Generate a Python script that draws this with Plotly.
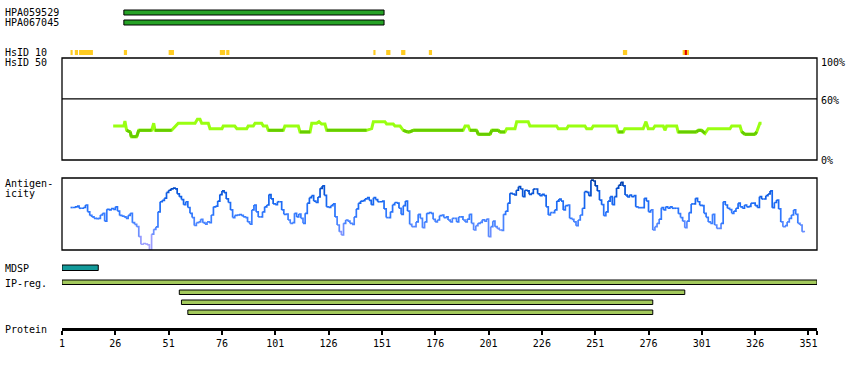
import plotly.graph_objects as go

# ---------------- data ----------------
protein_length = 355
tick_values = list(range(1, 352, 25))

antibody_names = ["HPA059529", "HPA067045"]
antibody_start = [30, 30]
antibody_end = [152, 152]

hsid10_start = [5, 7, 9, 30, 51, 75, 78, 147, 153, 160, 173, 264, 292]
hsid10_end = [6, 8.5, 15.5, 31.5, 53.5, 77.5, 79.5, 148, 155, 162, 174.5, 266, 295]
hsid_high_start = [293]
hsid_high_end = [294]

# similarity (%) breakpoints: residue, value
sim_residue = [25, 30, 30.5, 31.3, 33, 33.5, 36, 37, 43, 44, 44.6, 52.4, 55.5, 63.4, 64.5, 65.7,
               66.5, 69.6, 70.4, 76, 76.6, 82, 83, 87.6, 88.3, 90.7, 91.5, 94.6, 95.4, 97, 97.7,
               104.8, 105.5, 111.8, 112.6, 117.3, 118.1, 120.4, 121.5, 122.7, 124.3, 125.1, 143.8,
               146.2, 147, 152.4, 153.2, 156.3, 157.1, 159.5, 161, 163, 164, 165.7, 189.1, 190,
               191.5, 192.3, 195.4, 196.2, 201.7, 202.5, 205.6, 206.3, 208.7, 209.5, 213.4, 214.2,
               219.6, 220.4, 232.9, 233.7, 237.6, 238.4, 246.2, 247, 249.3, 250.1, 261, 261.8,
               264.2, 264.9, 273.5, 274.8, 275.9, 278.2, 279, 282.9, 283.7, 284.5, 289.2, 289.9,
               298.5, 299.3, 300.9, 302.5, 304, 314.2, 315, 318.9, 319.7, 321.2, 325.9, 326.7,
               328.2, 329]
sim_value = [33.3, 33.3, 38.2, 29.1, 27.5, 22.9, 22.9, 29.1, 29.1, 36, 29.1, 29.1, 36, 36, 39.9, 39.9,
             36, 36, 30.7, 30.7, 33.3, 33.3, 30.7, 30.7, 33.3, 33.3, 36, 36, 33.3, 33.3, 29.1,
             29.1, 33.3, 33.3, 27.5, 27.5, 36, 36, 37.6, 35.3, 35.3, 29.1, 29.1,
             30.7, 37.6, 37.6, 35.3, 35.3, 33.3, 33.3, 29.1, 27.5, 27.5, 29.1, 29.1, 33.3,
             33.3, 29.1, 29.1, 25.2, 25.2, 29.1, 29.1, 27.5, 27.5, 30.7, 30.7, 37.6,
             37.6, 33.3, 33.3, 30.7, 30.7, 33.3, 33.3, 30.7, 30.7, 33.3, 33.3, 27.5,
             27.5, 30.7, 30.7, 37.6, 30.7, 30.7, 33.3, 33.3, 29.1, 33.3, 33.3, 27.5,
             27.5, 29.1, 29.1, 26.1, 30.7, 30.7, 33.3, 33.3, 27.8, 25.2, 25.2, 27.5,
             36, 36]
sim_threshold = 30

# antigenicity, one value per residue starting at residue 5
antigen_first_residue = 5
antigen_values = [
    59, 59, 60, 61, 58, 58, 59, 62.5, 53, 48, 46, 44, 43.5, 44, 48.6, 51,
    40, 56.5, 55.6, 57.4, 56.5, 60, 54, 48, 47, 46, 44, 48, 51, 38, 35.6, 32.4, 18.5, 8, 9, 8.3,
    7, 0, 22, 28.7, 32, 53, 67, 69, 72, 80, 83, 85, 86, 85, 78, 74, 70, 63, 67, 59,
    51, 45, 34, 38, 39, 42.6, 38, 36, 39, 38, 48.6, 60, 61, 68, 77, 82, 79.6, 71, 66, 55.6,
    45, 48, 48.6, 49, 48, 46, 45, 39, 36,
    55.6, 62.5, 53, 46, 46, 53, 60, 62.5, 77, 71, 64,
    63, 67, 67, 55.6, 49.5, 50, 41.7, 37, 38, 51, 46, 50, 44, 37, 51, 65, 72.7, 75.5, 68, 66,
    73.6, 85.6, 89, 76, 60, 59, 61.6, 64, 46, 34.7, 25.5, 20.8, 37, 41.7, 40, 37, 35.6, 46, 57, 65,
    68, 68.5, 71, 72.7, 69, 63, 72.7, 70, 67, 67, 68, 57, 45, 45, 53, 63, 66, 65, 58, 49.5,
    61.6, 68, 54, 35.6, 32.4, 32.4, 39, 49.5, 44, 31, 39, 51, 52, 51,
    42.6, 39, 41.7, 47.7, 48.6, 45, 46, 41.7, 39, 44, 44, 39, 46, 46, 41.7, 39, 43, 49.5, 37, 27.8,
    33.8, 37, 38.4, 42, 40, 43,
    18.5, 32.4, 40, 32.4, 30, 27.8, 27.3, 49.5, 54, 65, 78.7, 77.8, 76.4, 83, 88, 84.7, 74, 83, 82, 77.3,
    78.7, 84.7, 84.7, 78, 75.5, 77.3, 75.5, 60, 48.6, 52, 52, 55.6, 68, 70.8, 68, 55.6, 61.6, 62.5, 44, 42.6,
    39, 33.8, 41.7, 48.6, 58, 81, 80, 75.5, 97, 95.8, 89, 82, 69.4, 63, 47.7, 53, 68, 74, 63, 74,
    86, 90, 94, 89, 76.4, 73.6, 76.4, 74, 75.5, 60, 58.8, 58.8, 58.8, 71.8, 68, 53, 55.6, 27.8, 32.4, 37,
    43, 58.8, 55.6, 60, 58, 60, 58, 58, 58, 50.5, 45, 40, 31, 40, 52, 64, 64, 71.8, 67, 62,
    61.6, 50.9, 45.4, 39, 37, 49.5, 34.7, 30, 30, 37, 67, 62.5, 58, 56, 51, 54, 58, 65, 60, 58,
    62.5, 60, 60.6, 65, 65, 61.6, 59, 74, 70.8, 70.8, 75.5, 77.8, 82, 58.8, 66, 69.4, 57, 39, 32.4, 33.8,
    39, 44, 48.6, 55.6, 49.5, 37, 34.7, 25.5, 24.5,
]

mdsp_start = [1]
mdsp_end = [18]
ipreg_start = [1, 56, 57, 60]
ipreg_end = [355, 293, 278, 278]

# ---------------- layout constants (pixels) ----------------
W, H = 850, 370
ML, MR = 62, 33
FONT = "DejaVu Sans Mono"

def py(p):  # pixel y -> paper y
    return 1 - p / H

fig = go.Figure()

# invisible trace to hold the pixel row axis
fig.add_trace(go.Scatter(x=[1], y=[0], mode="markers", marker=dict(opacity=0),
                         xaxis="x", yaxis="y", showlegend=False, hoverinfo="skip"))

shapes = []

# antibody bars
ab_rows = [(10, 15), (20, 25)]
for (y0, y1), s, e in zip(ab_rows, antibody_start, antibody_end):
    shapes.append(dict(type="rect", xref="x", yref="y", x0=s, x1=e, y0=y0, y1=y1,
                       fillcolor="#26a226", line=dict(color="black", width=1)))

# HsID marks
for s, e in zip(hsid10_start, hsid10_end):
    shapes.append(dict(type="rect", xref="x", yref="y", x0=s, x1=e, y0=50, y1=55,
                       fillcolor="#ffcc22", line=dict(width=0)))
for s, e in zip(hsid_high_start, hsid_high_end):
    shapes.append(dict(type="rect", xref="x", yref="y", x0=s, x1=e, y0=50, y1=55,
                       fillcolor="#e00000", line=dict(width=0)))

# similarity box + 60% line
shapes.append(dict(type="rect", xref="paper", yref="y", x0=0, x1=1, y0=58, y1=160,
                   line=dict(color="black", width=1.3), fillcolor="rgba(0,0,0,0)"))
shapes.append(dict(type="line", xref="paper", yref="y2", x0=0, x1=1, y0=60, y1=60,
                   line=dict(color="black", width=1.3)))

# antigenicity box
shapes.append(dict(type="rect", xref="paper", yref="y", x0=0, x1=1, y0=178, y1=250,
                   line=dict(color="black", width=1.3), fillcolor="rgba(0,0,0,0)"))

# MDSP
for s, e in zip(mdsp_start, mdsp_end):
    shapes.append(dict(type="rect", xref="x", yref="y", x0=s, x1=e, y0=265, y1=270.5,
                       fillcolor="#139a9a", line=dict(color="black", width=1)))

# IP regions
ip_rows = [(280, 284.5), (290, 294.5), (300, 304.5), (310, 314.5)]
for (y0, y1), s, e in zip(ip_rows, ipreg_start, ipreg_end):
    shapes.append(dict(type="rect", xref="x", yref="y", x0=s, x1=e, y0=y0, y1=y1,
                       fillcolor="#a3c95c", line=dict(color="black", width=1)))

# similarity line (light for all, dark where below threshold)
fig.add_trace(go.Scatter(x=sim_residue, y=sim_value, mode="lines", xaxis="x", yaxis="y2",
                         line=dict(color="#99ff11", width=3), showlegend=False, hoverinfo="skip"))
dx, dy = [], []
for i in range(len(sim_value) - 1):
    if sim_value[i] < sim_threshold and sim_value[i + 1] < sim_threshold:
        dx += [sim_residue[i], sim_residue[i + 1], None]
        dy += [sim_value[i], sim_value[i + 1], None]
fig.add_trace(go.Scatter(x=dx, y=dy, mode="lines", xaxis="x", yaxis="y2",
                         line=dict(color="#66cc00", width=3), showlegend=False, hoverinfo="skip"))

# antigenicity line coloured by value
stops = [(0, (170, 165, 255)), (20, (140, 150, 255)), (30, (95, 140, 255)), (45, (58, 126, 255)),
         (60, (35, 112, 250)), (75, (15, 95, 232)), (90, (0, 70, 190)), (100, (0, 50, 140))]

def col(v):
    v = max(0, min(100, v))
    for (a, ca), (b, cb) in zip(stops[:-1], stops[1:]):
        if a <= v <= b:
            t = (v - a) / (b - a)
            c = [round(ca[k] + t * (cb[k] - ca[k])) for k in range(3)]
            return "rgb(%d,%d,%d)" % tuple(c)
    return "rgb(0,50,140)"

bins = {}
res = [antigen_first_residue + i for i in range(len(antigen_values))]
for i in range(len(antigen_values) - 1):
    avg = (antigen_values[i] + antigen_values[i + 1]) / 2
    b = int(avg // 6)
    bx, by = bins.setdefault(b, ([], []))
    bx += [res[i], res[i + 1], None]
    by += [antigen_values[i], antigen_values[i + 1], None]
for b in sorted(bins):
    bx, by = bins[b]
    fig.add_trace(go.Scatter(x=bx, y=by, mode="lines", xaxis="x", yaxis="y3",
                             line=dict(color=col(b * 6 + 3), width=1.7, shape="hv"),
                             showlegend=False, hoverinfo="skip"))

# annotations
ann = []
def lab(text, ypix, xpix=3):
    ann.append(dict(text=text, xref="paper", yref="paper", x=(xpix - ML) / (W - ML - MR),
                    y=py(ypix), xanchor="left", yanchor="middle", showarrow=False,
                    font=dict(family=FONT, size=10, color="black")))

for name, ypix in zip(antibody_names, [12.5, 22.5]):
    lab(name, ypix)
lab("HsID 10", 52.5)
lab("HsID 50", 62.5)
lab("Antigen-", 183)
lab("icity", 193)
lab("MDSP", 268)
lab("IP-reg.", 283)
lab("Protein", 329)
for t, ypix in [("100%", 62.5), ("60%", 100.5), ("0%", 160)]:
    lab(t, ypix, xpix=819)

fig.update_layout(
    width=W, height=H,
    margin=dict(l=ML, r=MR, t=0, b=0, pad=0),
    paper_bgcolor="white", plot_bgcolor="white",
    shapes=shapes, annotations=ann,
    xaxis=dict(range=[1, protein_length], domain=[0, 1], anchor="free", position=py(329),
               showgrid=False, zeroline=False, showline=True, linecolor="black", linewidth=3,
               ticks="outside", ticklen=4, tickwidth=2, tickcolor="black",
               tickvals=tick_values + [protein_length],
               ticktext=[str(v) for v in tick_values] + [""],
               tickfont=dict(family=FONT, size=10, color="black")),
    yaxis=dict(range=[H, 0], domain=[0, 1], visible=False, anchor="x"),
    yaxis2=dict(range=[0, 100], domain=[py(160), py(58)], visible=False, anchor="x"),
    yaxis3=dict(range=[0, 100], domain=[py(250), py(178)], visible=False, anchor="x"),
    showlegend=False,
)

fig.write_html("out.html", config={"displayModeBar": False},
               post_script="document.body.style.margin='0';document.body.style.padding='0';")
